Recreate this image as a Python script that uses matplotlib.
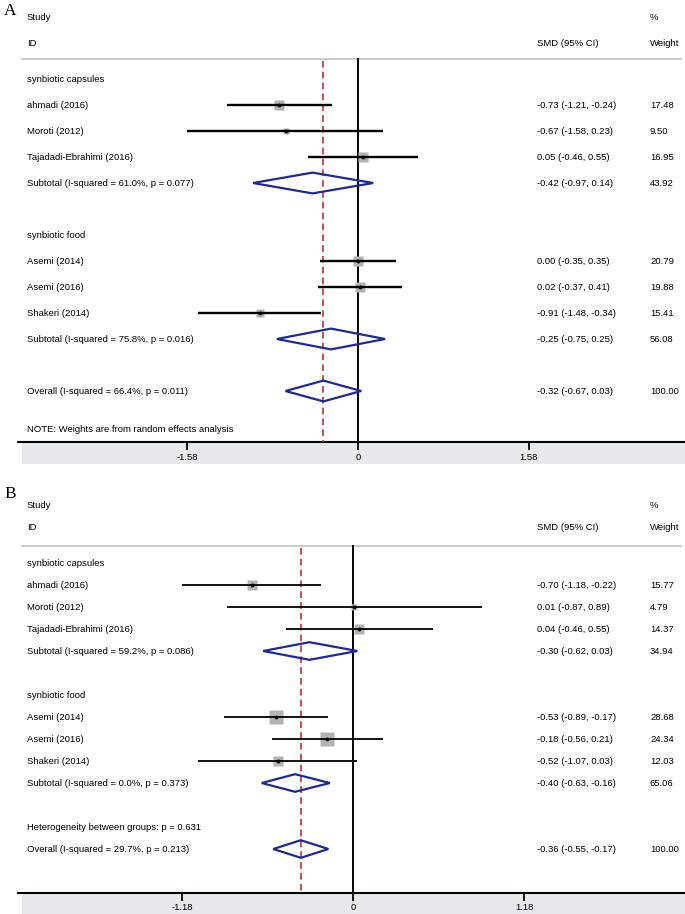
import matplotlib
matplotlib.use('Agg')
import matplotlib.pyplot as plt
from matplotlib.patches import Polygon

plt.rcParams['font.family'] = ['Liberation Sans', 'DejaVu Sans']

# ---- data: panel A ----
a_labels = ['ahmadi (2016)', 'Moroti (2012)', 'Tajadadi-Ebrahimi (2016)',
            'Asemi (2014)', 'Asemi (2016)', 'Shakeri (2014)']
a_smd = [-0.73, -0.67, 0.05, 0.00, 0.02, -0.91]
a_lo = [-1.21, -1.58, -0.46, -0.35, -0.37, -1.48]
a_hi = [-0.24, 0.23, 0.55, 0.35, 0.41, -0.34]
a_w = [17.48, 9.50, 16.95, 20.79, 19.88, 15.41]
a_rows = [1, 2, 3, 7, 8, 9]
a_sub_labels = ['Subtotal (I-squared = 61.0%, p = 0.077)',
                'Subtotal (I-squared = 75.8%, p = 0.016)']
a_sub_smd = [-0.42, -0.25]
a_sub_lo = [-0.97, -0.75]
a_sub_hi = [0.14, 0.25]
a_sub_w = [43.92, 56.08]
a_sub_rows = [4, 10]
a_all_label = 'Overall (I-squared = 66.4%, p = 0.011)'
a_all = (-0.32, -0.67, 0.03, 100.00)
a_all_row = 12
a_ticks = [-1.58, 0, 1.58]

# ---- data: panel B ----
b_labels = a_labels
b_smd = [-0.70, 0.01, 0.04, -0.53, -0.18, -0.52]
b_lo = [-1.18, -0.87, -0.46, -0.89, -0.56, -1.07]
b_hi = [-0.22, 0.89, 0.55, -0.17, 0.21, 0.03]
b_w = [15.77, 4.79, 14.37, 28.68, 24.34, 12.03]
b_rows = [1, 2, 3, 7, 8, 9]
b_sub_labels = ['Subtotal (I-squared = 59.2%, p = 0.086)',
                'Subtotal (I-squared = 0.0%, p = 0.373)']
b_sub_smd = [-0.30, -0.40]
b_sub_lo = [-0.62, -0.63]
b_sub_hi = [0.03, -0.16]
b_sub_w = [34.94, 65.06]
b_sub_rows = [4, 10]
b_all_label = 'Overall (I-squared = 29.7%, p = 0.213)'
b_all = (-0.36, -0.55, -0.17, 100.00)
b_all_row = 13
b_ticks = [-1.18, 0, 1.18]

groups = ['synbiotic capsules', 'synbiotic food']
group_rows = [0, 6]

W, H = 685, 914
FS = 6.8
NAVY = '#1f2b8a'
RED = '#b0353a'
BAND = '#e4eaec'


def fmt(m, l, h):
    return f'{m:.2f} ({l:.2f}, {h:.2f})'


def panel(top, bot, x0, scale, y0, dy, letter, letter_y, study_y, id_y,
          line_y, axis_y, band_y, labels, smd, lo, hi, w, rows,
          sub_labels, sub_smd, sub_lo, sub_hi, sub_w, sub_rows,
          all_label, allv, all_row, ticks, sq_k, ci_lw, extra):
    ax = fig.add_axes([0, 1 - bot / H, 1, (bot - top) / H])
    ax.set_xlim(-x0 / scale, (W - x0) / scale)
    r = lambda px: (px - y0) / dy
    ax.set_ylim(r(bot), r(top))
    ax.axis('off')
    tr = ax.get_yaxis_transform()
    fx = lambda px: px / W

    ax.text(fx(4), r(letter_y), letter, transform=tr, fontsize=12.5,
            family=['Liberation Serif', 'DejaVu Serif'], va='center')
    ax.text(fx(27), r(study_y), 'Study', transform=tr, fontsize=FS, va='center')
    ax.text(fx(27), r(id_y), 'ID', transform=tr, fontsize=FS, va='center')
    ax.text(fx(537), r(id_y), 'SMD (95% CI)', transform=tr, fontsize=FS, va='center')
    ax.text(fx(650), r(study_y), '%', transform=tr, fontsize=FS, va='center')
    ax.text(fx(650), r(id_y), 'Weight', transform=tr, fontsize=FS, va='center')
    ax.plot([fx(22), fx(681)], [r(line_y)] * 2, transform=tr, color='#c8cccd', lw=1.4)

    # bottom band and axis
    ax.fill_between([fx(22), 1], r(axis_y), r(band_y), transform=tr,
                    color=BAND, lw=0)
    ax.plot([fx(18), 1], [r(axis_y)] * 2, transform=tr, color='black', lw=1.5)
    for t in ticks:
        ax.plot([t, t], [r(axis_y), r(axis_y + 7)], color='black', lw=1.3)
        ax.text(t, r(axis_y + 15), f'{t:g}', fontsize=FS, ha='center', va='center')

    # reference lines
    ax.plot([0, 0], [r(line_y), r(axis_y)], color='black', lw=1.4)
    ax.plot([allv[0]] * 2, [r(line_y + 2), r(axis_y)], color=RED, lw=1.2,
            dashes=(4, 2.5))

    for g, gr in zip(groups, group_rows):
        ax.text(fx(27), gr, g, transform=tr, fontsize=FS, va='center')

    for lab, m, l, h, wt, rw in zip(labels, smd, lo, hi, w, rows):
        ax.plot([l, h], [rw, rw], color='black', lw=ci_lw, solid_capstyle='butt', zorder=3)
        side = sq_k * wt ** 0.5
        ax.plot([m], [rw], marker='s', ms=side * 0.72, color='#b3b3b3',
                mec='none', zorder=2)
        ax.plot([m], [rw], marker='o', ms=2.8, color='black', mec='none', zorder=4)
        ax.text(fx(27), rw, lab, transform=tr, fontsize=FS, va='center')
        ax.text(fx(537), rw, fmt(m, l, h), transform=tr, fontsize=FS, va='center')
        ax.text(fx(650), rw, f'{wt:.2f}', transform=tr, fontsize=FS, va='center')

    dia_h = 0.4
    dias = list(zip(sub_labels, sub_smd, sub_lo, sub_hi, sub_w, sub_rows))
    dias.append((all_label, allv[0], allv[1], allv[2], allv[3], all_row))
    for lab, m, l, h, wt, rw in dias:
        ax.add_patch(Polygon([(l, rw), (m, rw - dia_h), (h, rw), (m, rw + dia_h)],
                             closed=True, fill=False, ec=NAVY, lw=1.6, zorder=5))
        ax.text(fx(27), rw, lab, transform=tr, fontsize=FS, va='center')
        ax.text(fx(537), rw, fmt(m, l, h), transform=tr, fontsize=FS, va='center')
        ax.text(fx(650), rw, f'{wt:.2f}', transform=tr, fontsize=FS, va='center')

    for txt, rw in extra:
        ax.text(fx(27), rw, txt, transform=tr, fontsize=FS, va='center')
    return ax


fig = plt.figure(figsize=(W / 100, H / 100), dpi=100)

panel(0, 470, 358, 108.2, 79, 26, 'A', 11, 17, 43, 59, 442, 464,
      a_labels, a_smd, a_lo, a_hi, a_w, a_rows,
      a_sub_labels, a_sub_smd, a_sub_lo, a_sub_hi, a_sub_w, a_sub_rows,
      a_all_label, a_all, a_all_row, a_ticks, 2.2, 1.7,
      [('NOTE: Weights are from random effects analysis', (430 - 79) / 26)])

panel(470, 914, 353, 144.9, 563, 22, 'B', 494, 505, 527, 546, 893, 914,
      b_labels, b_smd, b_lo, b_hi, b_w, b_rows,
      b_sub_labels, b_sub_smd, b_sub_lo, b_sub_hi, b_sub_w, b_sub_rows,
      b_all_label, b_all, b_all_row, b_ticks, 2.7, 1.3,
      [('Heterogeneity between groups: p = 0.631', 12)])

fig.savefig('out.png', dpi=100)
